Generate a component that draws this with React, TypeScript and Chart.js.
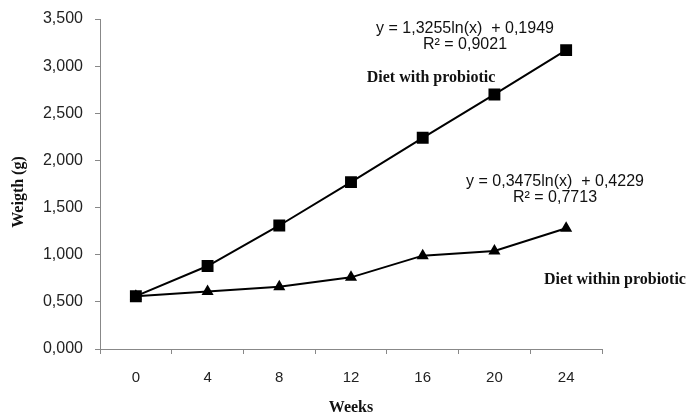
import React, { useEffect, useRef } from "react";
import { Chart, registerables } from "chart.js";

Chart.register(...registerables);

const weeks = ["0", "4", "8", "12", "16", "20", "24"];
const withProbiotic = [0.56, 0.88, 1.31, 1.77, 2.24, 2.7, 3.17];
const withinProbiotic = [0.56, 0.61, 0.66, 0.76, 0.99, 1.04, 1.28];
const yTicks = [0, 0.5, 1, 1.5, 2, 2.5, 3, 3.5];

const textPlugin = {
  id: "texts",
  afterDraw(chart: any) {
    const ctx = chart.ctx;
    ctx.save();
    ctx.fillStyle = "#111";
    ctx.textAlign = "center";
    ctx.textBaseline = "middle";
    ctx.font = "16px 'Liberation Sans', Arial, sans-serif";
    ctx.fillText("y = 1,3255ln(x)  + 0,1949", 465, 29);
    ctx.fillText("R² = 0,9021", 465, 45);
    ctx.fillText("y = 0,3475ln(x)  + 0,4229", 555, 182);
    ctx.fillText("R² = 0,7713", 555, 198);
    ctx.font = "bold 16px 'Liberation Serif', 'Times New Roman', serif";
    ctx.fillText("Diet with probiotic", 431, 78);
    ctx.fillText("Diet within probiotic", 615, 280);
    ctx.fillText("Weeks", 351, 408);
    ctx.translate(19, 192);
    ctx.rotate(-Math.PI / 2);
    ctx.fillText("Weigth (g)", 0, 0);
    ctx.restore();
  },
};

export default function App() {
  const ref = useRef<HTMLCanvasElement>(null);
  useEffect(() => {
    document.body.style.margin = "0";
    const chart = new Chart(ref.current!, {
      type: "line",
      data: {
        labels: weeks,
        datasets: [
          {
            label: "Diet with probiotic",
            data: withProbiotic,
            borderColor: "#000",
            backgroundColor: "#000",
            borderWidth: 2,
            pointStyle: "rect",
            pointRadius: 7,
            pointHoverRadius: 7,
            tension: 0,
          },
          {
            label: "Diet within probiotic",
            data: withinProbiotic,
            borderColor: "#000",
            backgroundColor: "#000",
            borderWidth: 2,
            pointStyle: "triangle",
            pointRadius: 5,
            pointHoverRadius: 5,
            tension: 0,
          },
        ],
      },
      options: {
        responsive: false,
        animation: false,
        layout: { padding: { top: 19, right: 86, left: 0, bottom: 0 } },
        plugins: { legend: { display: false }, tooltip: { enabled: false } },
        scales: {
          x: {
            offset: true,
            grid: { offset: true, drawOnChartArea: false, tickLength: 5, color: "#888" },
            border: { color: "#888", width: 1 },
            ticks: {
              color: "#222",
              font: { family: "'Liberation Sans', Arial, sans-serif", size: 15 },
              padding: 15,
              maxRotation: 0,
            },
            afterFit: (s: any) => {
              s.height = 67;
              s.paddingLeft = 0;
              s.paddingRight = 0;
            },
          },
          y: {
            min: 0,
            max: 3.5,
            afterBuildTicks: (s: any) => {
              s.ticks = yTicks.map((v) => ({ value: v }));
            },
            grid: { drawOnChartArea: false, tickLength: 5, color: "#888" },
            border: { color: "#888", width: 1 },
            ticks: {
              color: "#222",
              font: { family: "'Liberation Sans', Arial, sans-serif", size: 16 },
              padding: 12,
              callback: (v: any) => Number(v).toFixed(3).replace(".", ","),
            },
            afterFit: (s: any) => {
              s.width = 100;
              s.paddingTop = 0;
              s.paddingBottom = 0;
            },
          },
        },
      },
      plugins: [textPlugin],
    });
    return () => chart.destroy();
  }, []);
  return <canvas ref={ref} width={688} height={416} style={{ display: "block" }} />;
}
